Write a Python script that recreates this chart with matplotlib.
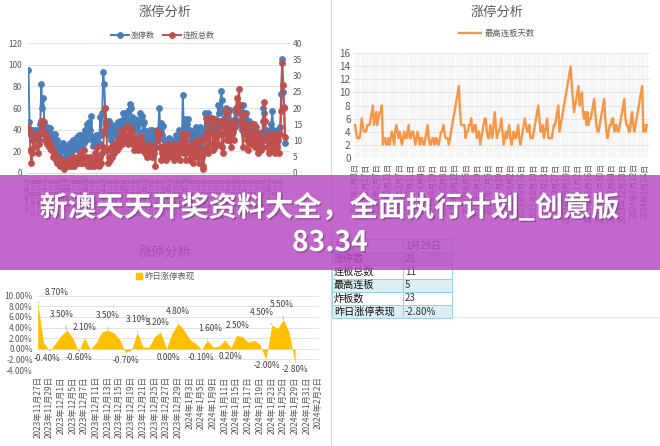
"""Composite of three limit-up analysis charts, a summary table and a banner."""

import matplotlib
matplotlib.use('Agg')
import matplotlib.pyplot as plt
import matplotlib.patheffects as pe
from matplotlib.patches import Rectangle
from matplotlib.lines import Line2D
import pandas as pd

plt.rcParams['font.family'] = ['Noto Sans CJK SC', 'DejaVu Sans']

W, H = 660, 446
OUTPUT_PATH = 'out.png'

# --- data -----------------------------------------------------------------
HOLIDAYS = ['2023-01-23', '2023-01-24', '2023-01-25', '2023-01-26', '2023-01-27',
            '2023-04-05', '2023-05-01', '2023-05-02', '2023-05-03',
            '2023-06-22', '2023-06-23', '2023-09-29', '2023-10-02', '2023-10-03',
            '2023-10-04', '2023-10-05', '2023-10-06', '2024-01-01']
TRADE_DAYS = [d for d in pd.bdate_range('2023-01-03', '2024-02-02')
              if d.strftime('%Y-%m-%d') not in HOLIDAYS]

# 涨停数 (left axis)
ZT_COUNT = [
    95, 47, 40, 35, 40, 30, 38, 40, 33, 40,
    35, 30, 45, 82, 60, 69, 47, 40, 35, 42,
    41, 35, 41, 30, 36, 28, 35, 36, 22, 30,
    25, 18, 20, 15, 22, 28, 25, 20, 15, 22,
    25, 18, 28, 22, 20, 30, 25, 28, 22, 33,
    28, 35, 25, 35, 30, 22, 28, 40, 30, 40,
    45, 35, 47, 40, 53, 30, 25, 33, 28, 35,
    30, 35, 28, 52, 35, 55, 93, 82, 60, 48,
    45, 35, 48, 40, 30, 44, 38, 43, 35, 44,
    40, 47, 42, 48, 45, 40, 55, 50, 45, 55,
    55, 48, 58, 64, 60, 52, 45, 40, 50, 45,
    42, 48, 38, 55, 50, 53, 45, 47, 40, 35,
    30, 32, 37, 35, 40, 32, 40, 28, 25, 30,
    35, 40, 38, 60, 40, 46, 35, 43, 30, 27,
    30, 22, 25, 32, 20, 25, 28, 20, 30, 25,
    35, 30, 28, 40, 35, 38, 30, 72, 40, 50,
    35, 45, 50, 38, 40, 30, 35, 28, 32, 38,
    42, 30, 35, 25, 42, 20, 30, 22, 35, 38,
    55, 40, 35, 55, 45, 38, 40, 50, 42, 45,
    50, 40, 45, 63, 55, 60, 76, 67, 45, 50,
    38, 60, 50, 42, 45, 58, 48, 40, 38, 45,
    50, 55, 48, 60, 62, 55, 45, 40, 63, 55,
    52, 55, 45, 42, 48, 40, 45, 38, 42, 45,
    40, 35, 38, 30, 32, 35, 28, 30, 38, 60,
    55, 35, 40, 38, 30, 35, 40, 45, 57, 40,
    35, 38, 30, 40, 35, 38, 42, 73, 105, 75, 61, 28]

# 连板总数 (right axis)
LB_TOTAL = [
    14, 13, 7, 3, 6, 10, 8, 12, 11, 12,
    6, 9, 12, 16, 14, 16, 12, 10, 12, 9,
    10, 8, 9, 7, 8, 5, 6, 5, 4, 3,
    5, 3, 2, 4, 2, 3, 1, 3, 2, 4,
    3, 2, 4, 2, 3, 5, 2, 4, 3, 5,
    3, 4, 6, 3, 5, 3, 7, 4, 5, 3,
    4, 2, 3, 5, 2, 3, 4, 2, 6, 4,
    8, 4, 2, 5, 3, 6, 8, 13, 20, 15,
    7, 3, 5, 4, 8, 5, 9, 6, 8, 9,
    7, 10, 8, 13, 11, 9, 13, 12, 10, 14,
    11, 9, 14, 12, 10, 13, 9, 7, 11, 8,
    9, 7, 10, 8, 11, 7, 9, 8, 7, 6,
    8, 5, 7, 9, 6, 8, 5, 7, 6, 2,
    8, 13, 10, 12, 8, 4, 6, 8, 5, 7,
    4, 9, 5, 7, 6, 8, 5, 9, 4, 6,
    8, 5, 9, 6, 4, 8, 12, 9, 6, 10,
    4, 12, 8, 6, 4, 9, 7, 3, 8, 5,
    10, 6, 8, 3, 7, 10, 5, 2, 1, 6,
    11, 17, 8, 6, 13, 9, 15, 17, 7, 12,
    8, 11, 16, 9, 12, 16, 12, 8, 6, 14,
    19, 12, 10, 19, 10, 14, 8, 12, 16, 10,
    14, 20, 23, 19, 26, 21, 16, 14, 8, 12,
    18, 13, 10, 7, 15, 10, 9, 15, 9, 12,
    8, 14, 10, 6, 12, 9, 7, 10, 8, 16,
    22, 16, 10, 8, 12, 6, 11, 7, 9, 12,
    10, 6, 12, 8, 10, 6, 12, 19, 34, 27, 20, 11]

# 最高连板天数
MAX_BOARD = [
    5, 4, 3, 3, 3, 4, 6, 5, 4, 4,
    4, 5, 5, 5, 6, 7, 8, 5, 6, 7,
    5, 6, 7, 7, 8, 2, 3, 3, 2, 2,
    3, 2, 3, 4, 3, 2, 4, 5, 4, 3,
    4, 3, 2, 3, 4, 3, 3, 4, 5, 3,
    3, 4, 4, 3, 2, 3, 4, 3, 2, 3,
    3, 2, 2, 3, 4, 5, 3, 2, 2, 3,
    3, 2, 3, 3, 2, 2, 3, 4, 4, 5,
    4, 3, 3, 3, 2, 3, 4, 5, 6, 7,
    8, 9, 10, 11, 7, 5, 5, 5, 5, 3,
    4, 4, 5, 5, 6, 4, 4, 5, 5, 3,
    4, 4, 2, 3, 4, 5, 6, 6, 4, 3,
    3, 5, 4, 3, 5, 7, 5, 3, 4, 4,
    5, 6, 4, 2, 3, 4, 3, 4, 5, 3,
    2, 3, 4, 3, 3, 4, 5, 3, 2, 3,
    4, 5, 6, 5, 4, 4, 5, 3, 3, 3,
    4, 5, 6, 7, 8, 6, 4, 4, 5, 3,
    4, 5, 6, 3, 3, 3, 3, 4, 5, 5,
    6, 7, 8, 4, 5, 6, 7, 8, 9, 10,
    11, 12, 13, 14, 11, 9, 7, 8, 9, 10,
    11, 8, 9, 10, 7, 6, 7, 5, 7, 5,
    6, 6, 7, 8, 9, 7, 5, 4, 4, 5,
    6, 7, 8, 9, 6, 4, 3, 4, 5, 5,
    6, 6, 4, 5, 5, 4, 4, 5, 6, 7,
    8, 9, 6, 5, 5, 4, 4, 6, 7, 5,
    4, 5, 6, 7, 8, 9, 10, 11, 4, 5, 4, 5]

# 昨日涨停表现 (%), 2023-11-27 .. 2024-01-29
YEST_PERF = [8.7, 1.2, -0.4, 1.0, 2.5, 3.5, 2.0, -0.6, 2.1, -0.1,
             1.2, 3.2, 3.5, 3.0, 1.8, -0.7, -0.3, 3.1, 0.3, 0.3,
             2.3, 3.2, 0.0, 3.0, 4.8, 3.5, 1.8, 1.0, -0.1, 1.6,
             0.3, 0.5, 1.7, 0.2, 2.5, 2.3, 1.2, 1.6, 0.8, -2.0,
             4.5, 3.8, 5.5, 3.0, -2.8]
LABEL_IDX = [0, 2, 5, 7, 8, 12, 15, 17, 21, 22, 24, 28, 29, 33, 34, 39, 40, 42, 44]
LABEL_OFFSET = [(19, 10), (-2, -8), (-5, 16), (0, -6), (0, 10), (0, 15), (1, -8),
                (1, 13), (-3, 9), (2, -9), (0, 12), (-1, -8), (3, 12), (0, -9),
                (1, 10), (1, -6), (-10, 12), (-2, 15), (0, -6)]

TABLE_KEYS = ['日期', '涨停数', '连板总数', '最高连板', '炸板数', '昨日涨停表现']
TABLE_VALS = ['1月29日', '28', '11', '5', '23', '-2.80%']

TITLE_1 = '新澳天天开奖资料大全，全面执行计划_创意版'
TITLE_2 = '83.34'


def cn_date(d):
    return f'{d.year}年{d.month}月{d.day}日'


def rect(x0, y0, x1, y1):
    return [x0 / W, 1 - y1 / H, (x1 - x0) / W, (y1 - y0) / H]


GRAY = '#595959'
BLUE = '#4a7ebb'
RED = '#c0504d'
ORANGE = '#f79646'
GOLD = '#ffc000'

fig = plt.figure(figsize=(W / 100, H / 100), dpi=100, facecolor='white')

# background canvas in pixel coords: borders, titles, table
bg = fig.add_axes([0, 0, 1, 1], zorder=0)
bg.set_xlim(0, W)
bg.set_ylim(H, 0)
bg.axis('off')
bg.plot([331, 331], [0, H], color='#d9d9d9', lw=0.8)
bg.plot([331, W], [316.5, 316.5], color='#e3e3e3', lw=0.8)

for cx, cy in [(165, 12.7), (497, 12.3), (165, 252)]:
    bg.text(cx, cy, '涨停分析', ha='center', va='center', fontsize=9.5, color=GRAY)

row_h = 13.2
for k, (key, val) in enumerate(zip(TABLE_KEYS, TABLE_VALS)):
    y0 = 239 + k * row_h
    face = '#daeef3' if k % 2 == 1 else 'white'
    bg.add_patch(Rectangle((332, y0), 71, row_h, facecolor=face, edgecolor='#92cddc', lw=0.6))
    bg.add_patch(Rectangle((403, y0), 49, row_h, facecolor=face, edgecolor='#92cddc', lw=0.6))
    bg.text(334, y0 + row_h / 2, key, ha='left', va='center', fontsize=7.3, color='#111111')
    bg.text(405, y0 + row_h / 2, val, ha='left', va='center', fontsize=7, color='#333333')

# --- top-left: 涨停数 / 连板总数 ---------------------------------------------
n_days = len(ZT_COUNT)
x_idx = list(range(n_days))
ax1 = fig.add_axes(rect(28, 43.3, 290, 172.7), zorder=2)
ax1.patch.set_alpha(0)
ax1.plot(x_idx, ZT_COUNT, color=BLUE, lw=1.4, marker='o', ms=3.9, mec=BLUE, zorder=3)
ax1.set_xlim(-0.5, 266)
ax1.set_ylim(0, 120)
ax1.set_yticks(range(0, 121, 20))
ax1.grid(axis='y', color='#e3e3e3', lw=0.7)
ax1.set_axisbelow(True)
ax1.set_xticks(x_idx[::6])
ax1.set_xticklabels([cn_date(TRADE_DAYS[i]) for i in x_idx[::6]], rotation=90,
                    fontsize=4.1, color=GRAY)
ax1b = ax1.twinx()
ax1b.plot(x_idx, LB_TOTAL, color=RED, lw=1.4, marker='o', ms=3.9, mec=RED, zorder=3)
ax1b.set_ylim(0, 40)
ax1b.set_yticks(range(0, 41, 5))
for a in (ax1, ax1b):
    for s in a.spines.values():
        s.set_visible(False)
    a.tick_params(length=0, labelsize=6, colors=GRAY)
ax1.tick_params(axis='y', pad=4.5)
ax1b.tick_params(axis='y', pad=2)
ax1.tick_params(axis='x', pad=3, labelsize=4.1)
ax1.spines['bottom'].set_visible(True)
ax1.spines['bottom'].set_color('#d9d9d9')

handles = [Line2D([], [], color=BLUE, lw=1.4, marker='o', ms=3.9),
           Line2D([], [], color=RED, lw=1.4, marker='o', ms=3.9)]
fig.legend(handles, ['涨停数', '连板总数'], loc='center', bbox_to_anchor=(163 / W, 1 - 35 / H),
           ncol=2, frameon=False, fontsize=5.8, handlelength=2.2, columnspacing=1.0,
           handletextpad=0.3, labelcolor=GRAY)

# --- top-right: 最高连板天数 --------------------------------------------------
ax2 = fig.add_axes(rect(353.3, 53.3, 650, 157.7), zorder=2)
ax2.patch.set_alpha(0)
ax2.vlines(x_idx, 0, 16, color='#f0f0f0', lw=0.4, zorder=0)
ax2.plot(x_idx, MAX_BOARD, color=ORANGE, lw=1.7, zorder=3)
ax2.set_xlim(-1.5, 264)
ax2.set_ylim(0, 16)
ax2.set_yticks(range(0, 17, 2))
ax2.grid(axis='y', color='#e6e6e6', lw=0.7)
ax2.set_axisbelow(True)
ax2.set_xticks(x_idx[::10])
ax2.set_xticklabels([cn_date(TRADE_DAYS[i]) for i in x_idx[::10]], rotation=90,
                    fontsize=5.8, color=GRAY)
for s in ax2.spines.values():
    s.set_visible(False)
ax2.tick_params(length=0, colors=GRAY)
ax2.tick_params(axis='y', labelsize=7.2, pad=2)
ax2.tick_params(axis='x', pad=4)
fig.legend([Line2D([], [], color=ORANGE, lw=1.7)], ['最高连板天数'], loc='center',
           bbox_to_anchor=(497 / W, 1 - 33 / H), frameon=False, fontsize=6,
           handlelength=2.6, handletextpad=0.4, labelcolor=GRAY)

# --- bottom-left: 昨日涨停表现 ------------------------------------------------
bl_start = 217
bl_days = TRADE_DAYS[bl_start:bl_start + 49]
ax3 = fig.add_axes(rect(37.7, 295.7, 318.5, 370), zorder=2)
ax3.patch.set_alpha(0)
perf_x = list(range(len(YEST_PERF)))
ax3.fill_between(perf_x, YEST_PERF, 0, color=GOLD, lw=0, zorder=2)
ax3.set_xlim(0, 48)
ax3.set_ylim(-4, 10)
ax3.set_yticks(range(-4, 11, 2))
ax3.set_yticklabels([f'{v:.2f}%' for v in range(-4, 11, 2)])
ax3.grid(axis='y', color='#e3e3e3', lw=0.7)
ax3.set_axisbelow(True)
ax3.set_xticks(range(0, 49, 2))
ax3.set_xticklabels([cn_date(d) for d in bl_days[::2]], rotation=90)
for s in ax3.spines.values():
    s.set_visible(False)
ax3.tick_params(length=0, labelsize=6, colors=GRAY)
ax3.tick_params(axis='y', pad=3.5)
ax3.tick_params(axis='x', pad=4.5)
for i, (dx, dy) in zip(LABEL_IDX, LABEL_OFFSET):
    v = YEST_PERF[i]
    arrow = dict(arrowstyle='-', color='#a6a6a6', lw=0.5, shrinkA=3, shrinkB=0) \
        if (dy >= 12 or i == 0) else None
    ax3.annotate(f'{v:.2f}%', (i, v), xytext=(dx, dy), textcoords='offset pixels',
                 ha='center', va='center', fontsize=6, color='#404040',
                 arrowprops=arrow, zorder=4)
fig.legend([Rectangle((0, 0), 1, 1, color=GOLD)], ['昨日涨停表现'], loc='center',
           bbox_to_anchor=(165 / W, 1 - 276 / H), frameon=False, fontsize=6,
           handlelength=0.7, handleheight=0.7, handletextpad=0.3, labelcolor=GRAY)

# --- banner overlay -----------------------------------------------------------
ov = fig.add_axes([0, 0, 1, 1], zorder=20)
ov.set_xlim(0, W)
ov.set_ylim(H, 0)
ov.axis('off')
ov.patch.set_alpha(0)
ov.add_patch(Rectangle((0, 175), W, 95, facecolor='#b84cc2', edgecolor='none', alpha=0.85))
shadow = [pe.withSimplePatchShadow(offset=(1, -1), shadow_rgbFace='#3a1f3d', alpha=0.35)]
ov.text(W / 2, 208, TITLE_1, ha='center', va='center', fontsize=20.3, fontweight='bold',
        color='white', path_effects=shadow)
ov.text(W / 2, 243, TITLE_2, ha='center', va='center', fontsize=20.3, fontweight='bold',
        color='white', path_effects=shadow)

fig.savefig(OUTPUT_PATH, dpi=100, facecolor='white')
print('saved')
